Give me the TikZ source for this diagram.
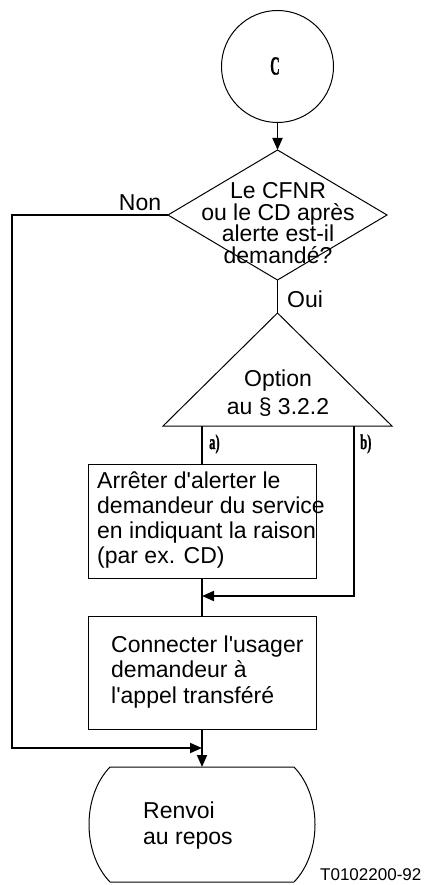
\documentclass[tikz,border=0pt]{standalone}
\usepackage{fontspec}
\usepackage{graphicx}
\newfontfamily\arialf{Liberation Sans}
\newfontfamily\serfb{Liberation Serif}[UprightFont={* Bold},FakeBold=1.5]
\newcommand{\narrowlab}[2]{\scalebox{#1}[1]{\serfb #2}}
\usetikzlibrary{shapes.geometric,arrows.meta}
\begin{document}
\begin{tikzpicture}[x=1pt,y=-1pt,
  shapeline/.style={draw=black,line width=1pt},
  conn/.style={draw=black,line width=1.8pt},
  arr/.style={-{Triangle[length=12pt,width=10pt]}},
  txt/.style={font=\arialf\fontsize{23}{25}\selectfont,inner sep=0pt},
  lab/.style={font=\fontsize{21}{21}\selectfont,inner sep=0pt,anchor=west},
]
\useasboundingbox (0,0) rectangle (426,885);
% connector (start)
\node[circle,shapeline,minimum size=112pt,inner sep=0pt,outer sep=0pt] (c) at (277.5,66.5) {};
\node[font=\fontsize{26}{26}\selectfont,inner sep=0pt] (ctext) at (275,66) {\narrowlab{0.5}{C}};
% decision
\node[diamond,shapeline,minimum width=219pt,minimum height=130pt,aspect=1.685,inner sep=0pt,outer sep=0pt] (d) at (277.5,215) {};
\node[txt,align=center,font=\arialf\fontsize{23}{21.7}\selectfont] (dtext) at (278,223) {Le CFNR\\ou le CD après\\alerte est-il\\demandé?};
% option triangle
\coordinate (tA) at (277.5,313);
\coordinate (tL) at (163,426);
\coordinate (tR) at (392,426);
\draw[shapeline] (tA) -- (tR) -- (tL) -- cycle;
\node[txt,align=center,font=\arialf\fontsize{23}{28}\selectfont] (ttext) at (278,393) {Option\\au § 3.2.2};
% box 1
\node[rectangle,shapeline,minimum width=228pt,minimum height=114pt,inner sep=0pt,outer sep=0pt] (b1) at (202,521) {};
\node[txt,align=left,anchor=west] (b1text) at (97,520) {Arrêter d'alerter le\\demandeur du service\\en indiquant la raison\\(par ex. CD)};
% box 2
\node[rectangle,shapeline,minimum width=228pt,minimum height=113pt,inner sep=0pt,outer sep=0pt] (b2) at (202,672.5) {};
\node[txt,align=left,anchor=west,font=\arialf\fontsize{23}{25.5}\selectfont] (b2text) at (111,672) {Connecter l'usager\\demandeur à\\l'appel transféré};
% terminal
\coordinate (eT) at (202,767);
\draw[shapeline] (110,767) -- (294,767) .. controls (322,796) and (322,853) .. (294,882)
  -- (110,882) .. controls (82,853) and (82,796) .. (110,767) -- cycle;
\node[txt,align=left,anchor=west,font=\arialf\fontsize{23}{26}\selectfont] (etext) at (143,826) {Renvoi\\au repos};
% connectors
\draw[conn,arr] (c.south) -- (d.north);
\draw[conn] (d.south) -- (tA);
\coordinate (nL) at (12,215);
\coordinate (nB) at (12,748);
\coordinate (j2) at (202,748);
\draw[conn,arr] (d.west) -- (nL) -- (nB) -- (j2);
\coordinate (tBa) at (202,426);
\draw[conn] (tBa) -- (b1.north);
\coordinate (tBb) at (354,426);
\coordinate (bB) at (354,596);
\coordinate (j1) at (202,596);
\draw[conn,arr] (tBb) -- (bB) -- (j1);
\draw[conn] (b1.south) -- (b2.north);
\draw[conn,arr] (b2.south) -- (eT);
% labels
\node[txt] (non) at (140,203) {Non};
\node[txt,anchor=west] (oui) at (287,299) {Oui};
\node[lab] (la) at (209,444) {\narrowlab{0.6}{a)}};
\node[lab] (lb) at (360,444) {\narrowlab{0.6}{b)}};
\node[inner sep=0pt,anchor=west,font=\arialf\fontsize{17}{17}\selectfont] (ref) at (320,875) {T0102200-92};
\end{tikzpicture}
\end{document}
